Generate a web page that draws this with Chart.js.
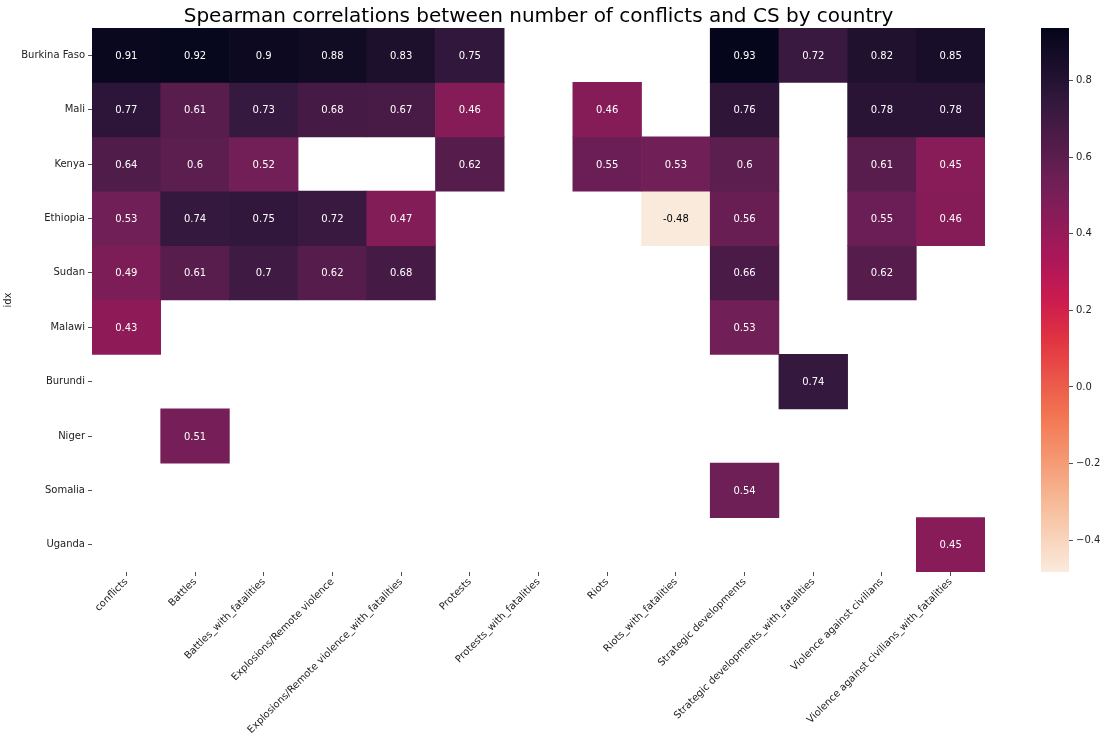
<!DOCTYPE html>
<html>
<head>
<meta charset="utf-8">
<script src="https://cdn.jsdelivr.net/npm/chart.js@4.4.0/dist/chart.umd.min.js"></script>
<style>
  html, body { margin: 0; padding: 0; background: #fff; }
  #wrap { position: relative; width: 1106px; height: 745px; }
  #heat { position: absolute; left: 0; top: 0; }
  #bar { position: absolute; left: 1012px; top: 0; }
</style>
</head>
<body>
<div id="wrap">
  <canvas id="heat" width="1106" height="745"></canvas>
  <canvas id="bar" width="94" height="745"></canvas>
</div>
<script>
const columns = [
    'conflicts', 'Battles', 'Battles_with_fatalities', 'Explosions/Remote violence',
    'Explosions/Remote violence_with_fatalities', 'Protests', 'Protests_with_fatalities',
    'Riots', 'Riots_with_fatalities', 'Strategic developments',
    'Strategic developments_with_fatalities', 'Violence against civilians',
    'Violence against civilians_with_fatalities'
];
const countries = ['Burkina Faso', 'Mali', 'Kenya', 'Ethiopia', 'Sudan', 'Malawi', 'Burundi', 'Niger', 'Somalia', 'Uganda'];

const burkinaFaso = [0.91, 0.92, 0.9, 0.88, 0.83, 0.75, null, null, null, 0.93, 0.72, 0.82, 0.85];
const mali        = [0.77, 0.61, 0.73, 0.68, 0.67, 0.46, null, 0.46, null, 0.76, null, 0.78, 0.78];
const kenya       = [0.64, 0.6, 0.52, null, null, 0.62, null, 0.55, 0.53, 0.6, null, 0.61, 0.45];
const ethiopia    = [0.53, 0.74, 0.75, 0.72, 0.47, null, null, null, -0.48, 0.56, null, 0.55, 0.46];
const sudan       = [0.49, 0.61, 0.7, 0.62, 0.68, null, null, null, null, 0.66, null, 0.62, null];
const malawi      = [0.43, null, null, null, null, null, null, null, null, 0.53, null, null, null];
const burundi     = [null, null, null, null, null, null, null, null, null, null, 0.74, null, null];
const niger       = [null, 0.51, null, null, null, null, null, null, null, null, null, null, null];
const somalia     = [null, null, null, null, null, null, null, null, null, 0.54, null, null, null];
const uganda      = [null, null, null, null, null, null, null, null, null, null, null, null, 0.45];

const values = [burkinaFaso, mali, kenya, ethiopia, sudan, malawi, burundi, niger, somalia, uganda];

const vmin = -0.483, vmax = 0.937;
const colorbarTicks = [-0.4, -0.2, 0, 0.2, 0.4, 0.6, 0.8];

// seaborn "rocket", dark -> light
const rocket = [
    [0, [3, 5, 26]], [1 / 7, [53, 25, 62]], [2 / 7, [112, 31, 87]], [3 / 7, [173, 23, 89]],
    [0.5, [203, 27, 79]], [4 / 7, [225, 51, 66]], [5 / 7, [243, 118, 81]],
    [6 / 7, [246, 180, 143]], [1, [250, 235, 221]]
];

function rocketRgb(p) {
    p = Math.max(0, Math.min(1, p));
    for (let i = 1; i < rocket.length; i++) {
        if (p <= rocket[i][0]) {
            let [p0, c0] = rocket[i - 1], [p1, c1] = rocket[i];
            let t = (p - p0) / (p1 - p0);
            return c0.map((c, k) => Math.round(c + (c1[k] - c) * t));
        }
    }
    return rocket[rocket.length - 1][1];
}

// reversed map: low values light, high values dark
const cellRgb = v => rocketRgb(1 - (v - vmin) / (vmax - vmin));
const rgb = c => `rgb(${c[0]},${c[1]},${c[2]})`;

function textColor(v) {
    let lum = cellRgb(v).map(c => {
        c /= 255;
        return c <= 0.03928 ? c / 12.92 : Math.pow((c + 0.055) / 1.055, 2.4);
    });
    let l = 0.2126 * lum[0] + 0.7152 * lum[1] + 0.0722 * lum[2];
    return l > 0.408 ? '#000' : '#fff';
}

const font = { family: '"DejaVu Sans", sans-serif', size: 10 };

const cellLabels = {
    id: 'cellLabels',
    afterDatasetsDraw(chart) {
        let ctx = chart.ctx;
        ctx.save();
        ctx.font = '10px "DejaVu Sans", sans-serif';
        ctx.textAlign = 'center';
        ctx.textBaseline = 'middle';
        values.forEach((row, r) => {
            chart.getDatasetMeta(r).data.forEach((bar, j) => {
                let v = row[j];
                if (v == null) return;
                let { x, y, base } = bar.getProps(['x', 'y', 'base'], true);
                ctx.fillStyle = textColor(v);
                ctx.fillText(String(v), x, (y + base) / 2 + 1);
            });
        });
        ctx.restore();
    }
};

new Chart(document.getElementById('heat'), {
    type: 'bar',
    data: {
        labels: columns,
        datasets: countries.map((name, r) => ({
            label: name,
            data: values[r].map(v => v == null ? null : [r, r + 1]),
            backgroundColor: values[r].map(v => v == null ? 'rgba(0,0,0,0)' : rgb(cellRgb(v))),
            grouped: false,
            barPercentage: 1,
            categoryPercentage: 1,
            borderWidth: 0,
        }))
    },
    options: {
        responsive: false,
        animation: false,
        layout: { padding: { left: 0, right: 121, top: 0, bottom: 0 } },
        plugins: {
            legend: { display: false },
            tooltip: { enabled: false },
            title: {
                display: true,
                fullSize: false,
                text: 'Spearman correlations between number of conflicts and CS by country',
                color: '#000',
                font: { family: '"DejaVu Sans", sans-serif', size: 20, weight: 'normal', lineHeight: 1.1 },
                padding: { top: 6, bottom: 0 },
            },
        },
        scales: {
            x: {
                grid: { drawOnChartArea: false, offset: false, tickLength: 4, tickColor: '#222', tickWidth: 0.8 },
                border: { display: false },
                ticks: { autoSkip: false, minRotation: 45, maxRotation: 45, padding: 0, color: '#222', font },
                afterFit: scale => { scale.height = 173; },
            },
            y: {
                type: 'linear',
                reverse: true,
                min: 0,
                max: countries.length,
                afterBuildTicks: scale => { scale.ticks = countries.map((_, i) => ({ value: i + 0.5 })); },
                grid: { drawOnChartArea: false, tickLength: 4, tickColor: '#222', tickWidth: 0.8 },
                border: { display: false },
                ticks: { callback: v => countries[Math.floor(v)], padding: 3, color: '#222', font },
                title: { display: true, text: 'idx', color: '#222', font, padding: 2 },
                afterFit: scale => { scale.width = 92; },
            },
        },
    },
    plugins: [cellLabels],
});

function colorbarGradient(chart) {
    let area = chart.chartArea;
    if (!area) return 'rgba(0,0,0,0)';
    let g = chart.ctx.createLinearGradient(0, area.bottom, 0, area.top);
    for (let i = 0; i <= 40; i++) {
        let s = i / 40;
        g.addColorStop(s, rgb(rocketRgb(1 - s)));
    }
    return g;
}

new Chart(document.getElementById('bar'), {
    type: 'bar',
    data: {
        labels: [''],
        datasets: [{
            data: [[vmin, vmax]],
            backgroundColor: ctx => colorbarGradient(ctx.chart),
            barPercentage: 1,
            categoryPercentage: 1,
            borderWidth: 0,
        }]
    },
    options: {
        responsive: false,
        animation: false,
        layout: { padding: { left: 29, right: 0, top: 28, bottom: 173 } },
        plugins: { legend: { display: false }, tooltip: { enabled: false } },
        scales: {
            x: { display: false },
            y: {
                position: 'right',
                min: vmin,
                max: vmax,
                afterBuildTicks: scale => { scale.ticks = colorbarTicks.map(v => ({ value: v })); },
                grid: { drawOnChartArea: false, tickLength: 4, tickColor: '#222', tickWidth: 0.8 },
                border: { display: false },
                ticks: {
                    callback: v => v < 0 ? '\u2212' + Math.abs(v).toFixed(1) : v.toFixed(1),
                    padding: 3, color: '#222', font,
                },
                afterFit: scale => { scale.width = 37; },
            },
        },
    },
});
</script>
</body>
</html>
